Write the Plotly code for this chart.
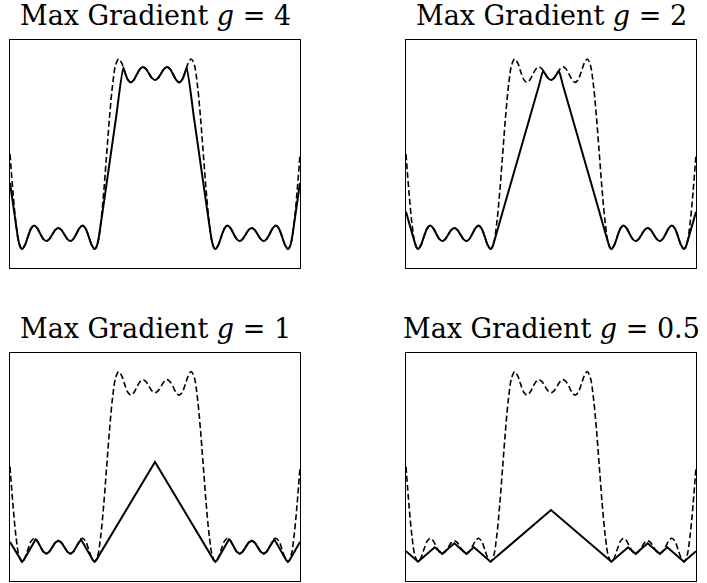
import plotly.graph_objects as go

# ---------------- data ----------------
TITLES = ["Max Gradient <i>g</i> = 4", "Max Gradient <i>g</i> = 2",
          "Max Gradient <i>g</i> = 1", "Max Gradient <i>g</i> = 0.5"]

# dashed curve (same in every panel): x in sample units 0..48
DASHED_X = [0, 0.5, 1, 1.5, 2, 2.5, 3, 3.5, 4, 4.5, 5, 5.5, 6, 6.5, 7, 7.5, 8,
            8.5, 9, 9.5, 10, 10.5, 11, 11.5, 12, 12.5, 13, 13.5, 14, 14.5, 15, 15.5, 16,
            16.5, 17, 17.5, 18, 18.5, 19, 19.5, 20, 20.5, 21, 21.5, 22, 22.5, 23, 23.5, 24,
            24.5, 25, 25.5, 26, 26.5, 27, 27.5, 28, 28.5, 29, 29.5, 30, 30.5, 31, 31.5, 32,
            32.5, 33, 33.5, 34, 34.5, 35, 35.5, 36, 36.5, 37, 37.5, 38, 38.5, 39, 39.5, 40,
            40.5, 41, 41.5, 42, 42.5, 43, 43.5, 44, 44.5, 45, 45.5, 46, 46.5, 47, 47.5, 48]
DASHED_Y = [0, -0.484, -0.874, -1.112, -1.184, -1.131, -1.022, -0.927, -0.892, -0.923,
            -0.993, -1.058, -1.085, -1.060, -1.002, -0.945, -0.922, -0.945, -1.002, -1.060,
            -1.085, -1.058, -0.993, -0.923, -0.892, -0.927, -1.022, -1.131, -1.184, -1.112,
            -0.874, -0.484, 0,
            0.484, 0.874, 1.112, 1.184, 1.131, 1.022, 0.927, 0.892, 0.923, 0.993, 1.058,
            1.085, 1.060, 1.002, 0.945, 0.922, 0.945, 1.002, 1.060, 1.085, 1.058, 0.993,
            0.923, 0.892, 0.927, 1.022, 1.131, 1.184, 1.112, 0.874, 0.484, 0,
            -0.484, -0.874, -1.112, -1.184, -1.131, -1.022, -0.927, -0.892, -0.923, -0.993,
            -1.058, -1.085, -1.060, -1.002, -0.945, -0.922, -0.945, -1.002, -1.060, -1.085,
            -1.058, -0.993, -0.923, -0.892, -0.927, -1.022, -1.131, -1.184, -1.112, -0.874,
            -0.484, 0]

# solid curve, g = 4
G4_X = [0, 1.1, 1.25, 1.5, 1.75, 2, 2.5, 3, 3.5, 4, 4.5, 5, 5.5, 6, 6.5, 7, 7.5, 8, 8.5, 9,
        9.5, 10, 10.5, 11, 11.5, 12, 12.5, 13, 13.5, 14, 14.25, 14.5, 14.8, 16, 17.5, 18.75,
        19, 19.5, 20, 20.5, 21, 21.5, 22, 22.5, 23, 23.5, 24, 24.5, 25, 25.5, 26, 26.5, 27,
        27.5, 28, 28.5, 29, 29.25, 30.5, 32, 33.2, 33.5, 33.75, 34, 34.5, 35, 35.5, 36, 36.5,
        37, 37.5, 38, 38.5, 39, 39.5, 40, 40.5, 41, 41.5, 42, 42.5, 43, 43.5, 44, 44.5, 45,
        45.5, 46, 46.25, 46.5, 46.75, 46.9, 48]
G4_Y = [-0.36, -0.935, -1.014, -1.112, -1.167, -1.184, -1.131, -1.022, -0.927, -0.892,
        -0.923, -0.993, -1.058, -1.085, -1.060, -1.002, -0.945, -0.922, -0.945, -1.002,
        -1.060, -1.085, -1.058, -0.993, -0.923, -0.892, -0.927, -1.022, -1.131, -1.184,
        -1.167, -1.112, -0.99, -0.362, 0.424, 1.079,
        1.022, 0.927, 0.892, 0.923, 0.993, 1.058, 1.085, 1.060, 1.002, 0.945, 0.922, 0.945,
        1.002, 1.060, 1.085, 1.058, 0.993, 0.923, 0.892, 0.927, 1.022, 1.079,
        0.424, -0.362, -0.99, -1.112, -1.167, -1.184, -1.131, -1.022, -0.927, -0.892,
        -0.923, -0.993, -1.058, -1.085, -1.060, -1.002, -0.945, -0.922, -0.945, -1.002,
        -1.060, -1.085, -1.058, -0.993, -0.923, -0.892, -0.927, -1.022, -1.131, -1.184,
        -1.167, -1.112, -1.014, -0.935, -0.36]

# solid curve, g = 2
G2_X = [0, 1.55, 1.75, 2, 2.5, 3, 3.5, 4, 4.5, 5, 5.5, 6, 6.5, 7, 7.5, 8, 8.5, 9, 9.5, 10,
        10.5, 11, 11.5, 12, 12.5, 13, 13.5, 14, 14.25, 14.45, 16, 18, 20, 22, 22.7, 23, 23.5,
        24, 24.5, 25, 25.3, 26, 28, 30, 32, 33.55, 33.75, 34, 34.5, 35, 35.5, 36, 36.5, 37,
        37.5, 38, 38.5, 39, 39.5, 40, 40.5, 41, 41.5, 42, 42.5, 43, 43.5, 44, 44.5, 45, 45.5,
        46, 46.25, 46.45, 48]
G2_Y = [-0.72, -1.126, -1.167, -1.184, -1.131, -1.022, -0.927, -0.892, -0.923, -0.993,
        -1.058, -1.085, -1.060, -1.002, -0.945, -0.922, -0.945, -1.002, -1.060, -1.085,
        -1.058, -0.993, -0.923, -0.892, -0.927, -1.022, -1.131, -1.184, -1.167, -1.126,
        -0.720, -0.196, 0.327, 0.851, 1.034, 1.002, 0.945, 0.922, 0.945, 1.002, 1.034,
        0.851, 0.327, -0.196, -0.720, -1.126, -1.167, -1.184, -1.131, -1.022, -0.927,
        -0.892, -0.923, -0.993, -1.058, -1.085, -1.060, -1.002, -0.945, -0.922, -0.945,
        -1.002, -1.060, -1.085, -1.058, -0.993, -0.923, -0.892, -0.927, -1.022, -1.131,
        -1.184, -1.167, -1.126, -0.72]

# solid curve, g = 1
G1_X = [0, 1.75, 2, 2.3, 4.25, 4.5, 5, 5.5, 6, 6.5, 7, 7.5, 8, 8.5, 9, 9.5, 10, 10.5, 11,
        11.5, 11.75, 13.7, 14, 14.3, 24, 33.7, 34, 34.3, 36.25, 36.5, 37, 37.5, 38, 38.5, 39,
        39.5, 40, 40.5, 41, 41.5, 42, 42.5, 43, 43.5, 43.75, 45.7, 46, 46.25, 48]
G1_Y = [-0.938, -1.167, -1.184, -1.16, -0.905, -0.923, -0.993, -1.058, -1.085, -1.060,
        -1.002, -0.945, -0.922, -0.945, -1.002, -1.060, -1.085, -1.058, -0.993, -0.923,
        -0.905, -1.16, -1.184, -1.16, 0.06, -1.16, -1.184, -1.16, -0.905, -0.923, -0.993,
        -1.058, -1.085, -1.060, -1.002, -0.945, -0.922, -0.945, -1.002, -1.060, -1.085,
        -1.058, -0.993, -0.923, -0.905, -1.16, -1.184, -1.167, -0.938]

# solid curve, g = 0.5
G05_X = [0, 2, 4.756, 6, 8, 10, 11.244, 14, 24, 34, 36.756, 38, 40, 42, 43.244, 46, 48]
G05_Y = [-1.053, -1.184, -1.004, -1.085, -0.954, -1.085, -1.004, -1.184, -0.540,
         -1.184, -1.004, -1.085, -0.954, -1.085, -1.004, -1.184, -1.053]

SOLID_X = [G4_X, G2_X, G1_X, G05_X]
SOLID_Y = [G4_Y, G2_Y, G1_Y, G05_Y]
SOLID_SHAPE = ["spline", "spline", "linear", "linear"]

# ---------------- layout ----------------
W, H = 707, 583


def px_x(v):
    return v / W


def px_y(v):
    return 1 - v / H


COL_X = [(px_x(10), px_x(300)), (px_x(406), px_x(696))]
ROW_Y = [(px_y(268), px_y(40)), (px_y(580.7), px_y(352.7))]

fig = go.Figure()
annotations = []
for i in range(4):
    r, c = divmod(i, 2)
    ax = "" if i == 0 else str(i + 1)
    xref, yref = "x" + ax, "y" + ax
    fig.add_trace(go.Scatter(x=DASHED_X, y=DASHED_Y, mode="lines", xaxis=xref, yaxis=yref,
                             line=dict(color="black", width=1.6, dash="6px,3px",
                                       shape="spline", smoothing=1.0),
                             hoverinfo="skip", showlegend=False))
    fig.add_trace(go.Scatter(x=SOLID_X[i], y=SOLID_Y[i], mode="lines", xaxis=xref, yaxis=yref,
                             line=dict(color="black", width=2, shape=SOLID_SHAPE[i],
                                       smoothing=0.6),
                             hoverinfo="skip", showlegend=False))
    axis_common = dict(showline=True, mirror=True, linecolor="black", linewidth=1,
                       ticks="", showticklabels=False, showgrid=False, zeroline=False,
                       fixedrange=True)
    fig.layout["xaxis" + ax] = dict(domain=list(COL_X[c]), range=[0, 48],
                                    anchor=yref, **axis_common)
    fig.layout["yaxis" + ax] = dict(domain=list(ROW_Y[r]), range=[-1.42, 1.42],
                                    anchor=xref, **axis_common)
    annotations.append(dict(text=TITLES[i], xref="paper", yref="paper",
                            x=(COL_X[c][0] + COL_X[c][1]) / 2, y=ROW_Y[r][1],
                            xanchor="center", yanchor="bottom", yshift=7, showarrow=False,
                            font=dict(family="DejaVu Serif", size=27, color="black")))

fig.update_layout(width=W, height=H, margin=dict(l=0, r=0, t=0, b=0),
                  paper_bgcolor="white", plot_bgcolor="white",
                  annotations=annotations, showlegend=False)

# remove the default page margin so the figure sits at the window's top-left corner
fig.write_html("out.html",
               config={"displayModeBar": False},
               post_script="document.body.style.margin='0';"
                           "document.body.style.overflow='hidden';")
